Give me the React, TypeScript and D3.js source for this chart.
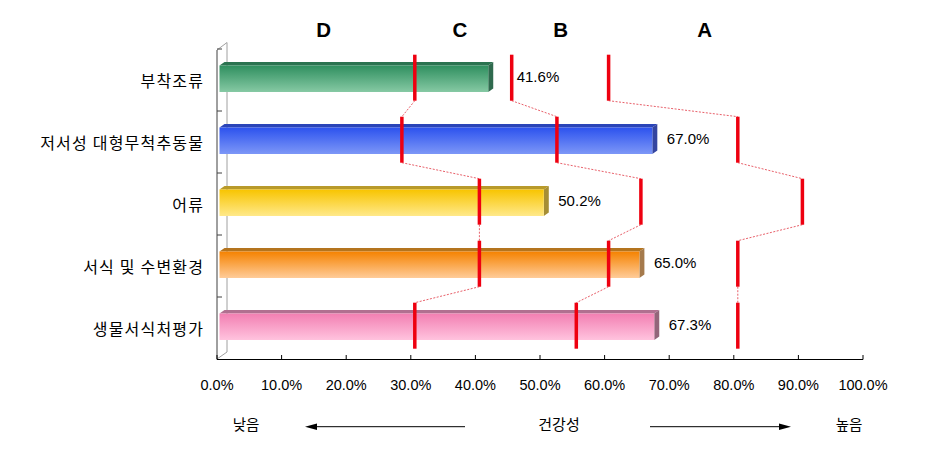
import React from "react";
import * as d3 from "d3";

const categories = ["부착조류", "저서성 대형무척추동물", "어류", "서식 및 수변환경", "생물서식처평가"];
const values = [41.6, 67.0, 50.2, 65.0, 67.3];
const boundaryDC = [30, 28, 40, 40, 30];
const boundaryCB = [45, 52, 65, 60, 55];
const boundaryBA = [60, 80, 90, 80, 80];
const gradeLabels = ["D", "C", "B", "A"];
const gradeLabelPos = [16.5, 37.6, 53.2, 75.5];
const xTicks = [0, 10, 20, 30, 40, 50, 60, 70, 80, 90, 100];
const barTop = ["#2f8f5f", "#2c52ee", "#f8c400", "#f58200", "#f27fb2"];
const barBottom = ["#86c9a4", "#7d97f7", "#ffe98a", "#ffcc99", "#ffc3de"];
const barTopFace = ["#2b7350", "#2a44b8", "#b89a2a", "#b4741e", "#b07090"];
const barSide = ["#2f6a4e", "#3445a0", "#a68e34", "#a57a4c", "#93657a"];

const W = 935;
const H = 471;
const DX = 5;
const DY = 3.5;

export default function App() {
  const x = d3.scaleLinear().domain([0, 100]).range([217, 863]);
  const y = d3.scaleBand<string>().domain(categories).range([49, 359]).padding(0);
  const bc = (i: number) => (y(categories[i]) as number) + y.bandwidth() / 2;
  const markerX = (v: number) => x(v) + 4;
  const mTop = (i: number) => bc(i) - 25.3;
  const mBot = (i: number) => bc(i) + 20.7;
  const boundaries = [boundaryDC, boundaryCB, boundaryBA];
  const labelW = 42;

  const labelX = (i: number) => {
    let lx = x(values[i]) + 2.5 + 14.5;
    boundaries.forEach((b) => {
      const mx = markerX(b[i]);
      if (mx >= lx - 2 && mx <= lx + labelW) lx = mx + 5;
    });
    return lx;
  };

  const font = "'Liberation Sans', Arial, sans-serif";
  const kfont = "'Noto Sans CJK KR', 'Noto Sans', sans-serif";

  return (
    <svg width={W} height={H} style={{ position: "absolute", left: 0, top: 0, background: "#fff" }}>
      <defs>
        {categories.map((c, i) => (
          <linearGradient key={c} id={`g${i}`} x1="0" y1="0" x2="0" y2="1">
            <stop offset="0" stopColor={barTop[i]} />
            <stop offset="1" stopColor={barBottom[i]} />
          </linearGradient>
        ))}
      </defs>

      {/* 3D frame */}
      <line x1={x(0) + 10} y1={42.5} x2={x(0) + 10} y2={352} stroke="#a0a0a0" strokeWidth={1} />
      <line x1={x(0)} y1={50} x2={x(0) + 10} y2={42.5} stroke="#a0a0a0" strokeWidth={1} />
      <line x1={x(0)} y1={359} x2={x(0) + 10} y2={352} stroke="#a0a0a0" strokeWidth={1} />
      <line x1={x(0)} y1={50} x2={x(0)} y2={359} stroke="#404040" strokeWidth={1} />
      {categories.map((c, i) => (
        <line key={c} x1={x(0)} x2={x(0) + 5} y1={y(c) as number} y2={y(c) as number} stroke="#404040" />
      ))}
      <line x1={x(0)} y1={359.5} x2={x(100)} y2={359.5} stroke="#000" strokeWidth={1} />
      {xTicks.map((t) => (
        <line key={t} x1={x(t)} x2={x(t)} y1={355} y2={359.5} stroke="#000" />
      ))}

      {/* bars */}
      {categories.map((c, i) => {
        const x0 = x(0) + 2.5;
        const x1 = x(values[i]) + 2.5;
        const ft = bc(i) - 14.5;
        const fb = bc(i) + 12;
        return (
          <g key={c}>
            <path
              d={`M${x0},${ft} L${x0 + DX},${ft - DY} L${x1 + DX},${ft - DY} L${x1},${ft} Z`}
              fill={barTopFace[i]}
            />
            <path
              d={`M${x1},${ft} L${x1 + DX},${ft - DY} L${x1 + DX},${fb - DY} L${x1},${fb} Z`}
              fill={barSide[i]}
            />
            <rect x={x0} y={ft} width={x1 - x0} height={fb - ft} fill={`url(#g${i})`} />
          </g>
        );
      })}

      {/* connectors */}
      {boundaries.map((b, k) =>
        categories.slice(0, -1).map((c, i) => (
          <line
            key={`c${k}-${i}`}
            x1={markerX(b[i])}
            y1={mBot(i)}
            x2={markerX(b[i + 1])}
            y2={mTop(i + 1)}
            stroke="#e8606a"
            strokeWidth={1}
            strokeDasharray="2,1.5"
          />
        ))
      )}

      {/* markers */}
      {boundaries.map((b, k) =>
        categories.map((c, i) => (
          <rect
            key={`m${k}-${i}`}
            x={markerX(b[i]) - 1.75}
            y={mTop(i)}
            width={3.5}
            height={mBot(i) - mTop(i)}
            fill="#ee0010"
          />
        ))
      )}

      {/* value labels */}
      {categories.map((c, i) => (
        <text
          key={`v${c}`}
          x={labelX(i)}
          y={bc(i) - 3.3}
          dominantBaseline="central"
          fontFamily={font}
          fontSize={15}
          fill="#000"
        >
          {values[i].toFixed(1)}%
        </text>
      ))}

      {/* category labels */}
      {categories.map((c, i) => (
        <text
          key={`l${c}`}
          x={204.2}
          y={bc(i)}
          textAnchor="end"
          dominantBaseline="central"
          fontFamily={kfont}
          fontSize={16}
          letterSpacing={1.2}
          fill="#000"
        >
          {c}
        </text>
      ))}

      {/* x tick labels */}
      {xTicks.map((t) => (
        <text
          key={`t${t}`}
          x={x(t)}
          y={384.5}
          textAnchor="middle"
          dominantBaseline="central"
          fontFamily={font}
          fontSize={14.5}
          fill="#000"
        >
          {t.toFixed(1)}%
        </text>
      ))}

      {/* grade letters */}
      {gradeLabels.map((g, i) => (
        <text
          key={g}
          x={x(gradeLabelPos[i])}
          y={37.3}
          textAnchor="middle"
          fontFamily={font}
          fontWeight="bold"
          fontSize={20.5}
          fill="#000"
        >
          {g}
        </text>
      ))}

      {/* bottom annotation */}
      <text x={246} y={423} textAnchor="middle" dominantBaseline="central" fontFamily={kfont} fontSize={14.5}>
        낮음
      </text>
      <text x={559} y={423} textAnchor="middle" dominantBaseline="central" fontFamily={kfont} fontSize={15}>
        건강성
      </text>
      <text x={849} y={423} textAnchor="middle" dominantBaseline="central" fontFamily={kfont} fontSize={14.5}>
        높음
      </text>
      <line x1={465} y1={426.7} x2={315} y2={426.7} stroke="#000" strokeWidth={1} />
      <path d="M305,426.7 L317,423.5 L317,429.9 Z" fill="#000" />
      <line x1={650} y1={426.7} x2={781} y2={426.7} stroke="#000" strokeWidth={1} />
      <path d="M791,426.7 L779,423.5 L779,429.9 Z" fill="#000" />
    </svg>
  );
}
